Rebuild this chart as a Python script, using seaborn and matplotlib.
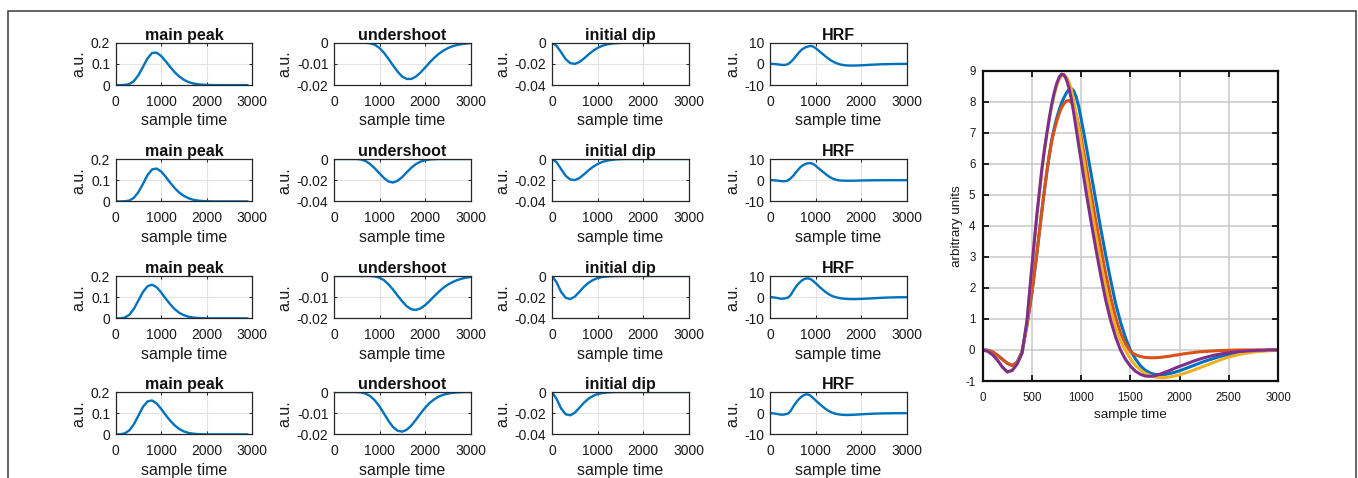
import matplotlib
matplotlib.use("Agg")
import numpy as np
import pandas as pd
import matplotlib.pyplot as plt
import seaborn as sns
from matplotlib.patches import Rectangle

# ---------------- data ----------------
t_peak = list(range(0, 2901, 100))   # main-peak sample times
t100 = list(range(0, 3001, 100))     # undershoot / initial dip sample times
# HRF sample times (denser around the peak)
t_hrf = list(range(0, 551, 50)) + list(range(600, 1101, 25)) + list(range(1150, 3001, 50))

main_peak_1 = [0, 0, 0.001, 0.005, 0.019, 0.047, 0.086, 0.126, 0.152, 0.153, 0.137, 0.112,
               0.085, 0.06, 0.04, 0.025, 0.014, 0.008, 0.004, 0.002, 0.001, 0.0004,
               0, 0, 0, 0, 0, 0, 0, 0]
main_peak_2 = [0, 0, 0.001, 0.004, 0.017, 0.044, 0.083, 0.124, 0.151, 0.155, 0.141, 0.116,
               0.088, 0.062, 0.041, 0.026, 0.015, 0.008, 0.004, 0.002, 0.001, 0.0004,
               0, 0, 0, 0, 0, 0, 0, 0]
main_peak_3 = [0, 0.0005, 0.004, 0.017, 0.045, 0.085, 0.125, 0.152, 0.159, 0.147, 0.122, 0.093,
               0.066, 0.043, 0.026, 0.015, 0.008, 0.004, 0.002, 0.001, 0.0003, 0,
               0, 0, 0, 0, 0, 0, 0, 0]
main_peak_4 = [0, 0.0005, 0.005, 0.019, 0.048, 0.089, 0.13, 0.156, 0.16, 0.146, 0.12, 0.091,
               0.064, 0.042, 0.025, 0.014, 0.007, 0.0035, 0.0015, 0.0006, 0.0002, 0,
               0, 0, 0, 0, 0, 0, 0, 0]

undershoot_1 = [0, 0, 0, 0, 0, 0, 0, 0, -0.0003, -0.001, -0.0025, -0.0048, -0.0077, -0.0108,
                -0.0137, -0.016, -0.0171, -0.0171, -0.016, -0.0141, -0.0118, -0.0094, -0.0072,
                -0.0053, -0.0038, -0.0026, -0.0017, -0.0011, -0.0007, -0.0004, -0.0002]
undershoot_2 = [0, 0, 0, 0, 0, 0, -0.0005, -0.002, -0.005, -0.009, -0.0135, -0.018, -0.0213,
                -0.0222, -0.0205, -0.017, -0.0125, -0.0082, -0.0048, -0.0025, -0.0012, -0.0005,
                -0.0002, 0, 0, 0, 0, 0, 0, 0, 0]
undershoot_3 = [0, 0, 0, 0, 0, 0, 0, 0, 0, -0.0002, -0.0008, -0.002, -0.004, -0.0065, -0.0093,
                -0.012, -0.0143, -0.0157, -0.016, -0.0153, -0.0138, -0.0118, -0.0096, -0.0075,
                -0.0056, -0.0041, -0.0029, -0.002, -0.0013, -0.0008, -0.0005]
undershoot_4 = [0, 0, 0, 0, 0, 0, -0.0002, -0.0008, -0.002, -0.004, -0.0068, -0.0102, -0.0137,
                -0.0166, -0.0183, -0.0187, -0.0178, -0.0158, -0.0131, -0.0102, -0.0075, -0.0052,
                -0.0035, -0.0022, -0.0013, -0.0008, -0.0004, -0.0002, -0.0001, 0, 0]

dip_1 = [0, -0.003, -0.009, -0.0155, -0.0192, -0.02, -0.0183, -0.015, -0.0112, -0.0077, -0.005,
         -0.003, -0.0017, -0.0009, -0.0005, -0.0002] + [0] * 15
dip_2 = [0, -0.003, -0.0095, -0.0158, -0.0193, -0.0199, -0.018, -0.0146, -0.0108, -0.0074,
         -0.0048, -0.0029, -0.0016, -0.0009, -0.0004, -0.0002] + [0] * 15
dip_3 = [0, -0.006, -0.015, -0.0205, -0.0218, -0.0195, -0.015, -0.0103, -0.0065, -0.0038,
         -0.002, -0.001, -0.0005, -0.0002] + [0] * 17
dip_4 = [0, -0.0065, -0.0155, -0.021, -0.022, -0.0196, -0.015, -0.0102, -0.0064, -0.0037,
         -0.002, -0.001, -0.0005, -0.0002] + [0] * 17

hrf_1 = ([0, -0.01, -0.06, -0.17, -0.3, -0.43, -0.5, -0.4, -0.05, 0.8, 1.85, 3.1]
         + [4.45, 5.1, 5.7, 6.25, 6.75, 7.13, 7.45, 7.72, 7.95, 8.13, 8.28, 8.39, 8.43, 8.35,
            8.15, 7.85, 7.45, 7.03, 6.6, 6.15, 5.7]
         + [4.8, 3.9, 3.05, 2.25, 1.5, 0.9, 0.4, 0.0, -0.28, -0.5, -0.65, -0.74, -0.79, -0.8,
            -0.79, -0.76, -0.72, -0.67, -0.61, -0.55, -0.49, -0.43, -0.37, -0.32, -0.27, -0.22,
            -0.18, -0.15, -0.12, -0.09, -0.07, -0.05, -0.04, -0.03, -0.02, -0.01, 0, 0])
hrf_2 = ([0, -0.01, -0.06, -0.17, -0.3, -0.43, -0.5, -0.4, -0.05, 0.8, 1.85, 3.1]
         + [4.45, 5.1, 5.7, 6.25, 6.7, 7.05, 7.35, 7.6, 7.8, 7.94, 8.02, 8.04, 7.98, 7.83, 7.6,
            7.25, 6.85, 6.4, 5.95, 5.5, 5.05]
         + [4.15, 3.3, 2.45, 1.7, 1.05, 0.55, 0.2, -0.05, -0.15, -0.21, -0.24, -0.25, -0.25,
            -0.24, -0.22, -0.2, -0.17, -0.15, -0.12, -0.1, -0.08, -0.06, -0.05, -0.04, -0.03,
            -0.02, -0.015, -0.01, -0.005, 0, 0, 0, 0, 0, 0, 0, 0, 0])
hrf_3 = ([0, -0.04, -0.15, -0.33, -0.55, -0.71, -0.66, -0.45, -0.1, 0.9, 2.65, 4.3]
         + [5.75, 6.35, 6.9, 7.4, 7.85, 8.2, 8.5, 8.7, 8.83, 8.87, 8.8, 8.65, 8.4, 8.03, 7.6,
            7.13, 6.65, 6.15, 5.65, 5.15, 4.65]
         + [3.7, 2.8, 2.0, 1.3, 0.72, 0.3, -0.02, -0.28, -0.49, -0.64, -0.75, -0.82, -0.87,
            -0.89, -0.89, -0.87, -0.84, -0.8, -0.75, -0.7, -0.64, -0.58, -0.52, -0.46, -0.4,
            -0.34, -0.28, -0.23, -0.19, -0.15, -0.12, -0.09, -0.07, -0.05, -0.04, -0.03,
            -0.02, -0.01])
hrf_4 = ([0, -0.04, -0.15, -0.33, -0.55, -0.71, -0.66, -0.45, -0.1, 0.95, 2.7, 4.35]
         + [5.8, 6.42, 6.95, 7.45, 7.9, 8.27, 8.57, 8.78, 8.89, 8.87, 8.72, 8.46, 8.1, 7.63,
            7.12, 6.6, 6.1, 5.6, 5.1, 4.62, 4.15]
         + [3.25, 2.4, 1.6, 0.95, 0.42, 0.0, -0.3, -0.52, -0.68, -0.78, -0.84, -0.85, -0.83,
            -0.78, -0.72, -0.66, -0.59, -0.53, -0.47, -0.41, -0.35, -0.3, -0.25, -0.21, -0.17,
            -0.14, -0.11, -0.09, -0.07, -0.05, -0.04, -0.03, -0.02, -0.01, -0.01, 0, 0, 0])

col_titles = ["main peak", "undershoot", "initial dip", "HRF"]
xlabel_text = "sample time"
ylabel_small = "a.u."
ylabel_big = "arbitrary units"
series_names = ["1", "2", "3", "4"]
series_colors = ["#0072BD", "#D95319", "#EDB120", "#7E2F8E"]

# ---------------- style ----------------
sns.set_theme(style="white")
plt.rcParams['font.family'] = ['Liberation Sans', 'DejaVu Sans']
plt.rcParams['axes.unicode_minus'] = False

W, H = 1358, 478
fig = plt.figure(figsize=(W / 100, H / 100), dpi=100)
fig.patch.set_facecolor("white")


def px_axes(l, t, r, b):
    return fig.add_axes([l / W, 1 - b / H, (r - l) / W, (b - t) / H])


def fmt(v):
    return f"{v:g}"


def style(ax, xt, yt, big=False):
    ax.set_xticks(xt)
    ax.set_xticklabels([fmt(v) for v in xt])
    ax.set_yticks(yt)
    ax.set_yticklabels([fmt(v) for v in yt])
    ax.set_xlim(xt[0], xt[-1])
    ax.set_ylim(yt[0], yt[-1])
    if big:
        ax.grid(True, color="#c9c9c9", linewidth=1.1)
        ec, lw, tl, ts, xpad, ypad = "#111111", 1.6, 4.0, 8.3, 7.8, 5.2
    else:
        ax.grid(True, color="#e3e3e3", linewidth=0.8)
        ec, lw, tl, ts, xpad, ypad = "#262626", 0.9, 2.5, 10.0, 7.0, 4.0
    ax.set_axisbelow(True)
    for s in ax.spines.values():
        s.set_visible(True)
        s.set_color(ec)
        s.set_linewidth(lw)
    ax.tick_params(axis="both", which="both", direction="in", length=tl, width=lw * 0.8,
                   color=ec, labelsize=ts, labelcolor="#1a1a1a",
                   top=True, right=True, bottom=True, left=True)
    ax.tick_params(axis="x", pad=xpad)
    ax.tick_params(axis="y", pad=ypad)
    ax.set_facecolor("white")


BLUE = "#0072BD"
col_lefts = [115.7, 334.0, 552.0, 770.0]
col_w = 136.5
row_tops = [42.7, 159.0, 276.0, 392.0]
row_h = 42.4

rows = [
    (main_peak_1, undershoot_1, dip_1, hrf_1, [-0.02, -0.01, 0]),
    (main_peak_2, undershoot_2, dip_2, hrf_2, [-0.04, -0.02, 0]),
    (main_peak_3, undershoot_3, dip_3, hrf_3, [-0.02, -0.01, 0]),
    (main_peak_4, undershoot_4, dip_4, hrf_4, [-0.02, -0.01, 0]),
]
xt_small = [0, 1000, 2000, 3000]

for r, (mp, us, dp, hr, us_ticks) in enumerate(rows):
    panels = [
        (t_peak, mp, [0, 0.1, 0.2]),
        (t100, us, us_ticks),
        (t100, dp, [-0.04, -0.02, 0]),
        (t_hrf, hr, [-10, 0, 10]),
    ]
    for c, (tx, vals, yt) in enumerate(panels):
        l = col_lefts[c]
        t = row_tops[r]
        ax = px_axes(l, t, l + col_w, t + row_h)
        df = pd.DataFrame({"t": tx, "v": vals})
        sns.lineplot(data=df, x="t", y="v", ax=ax, color=BLUE, linewidth=1.7)
        style(ax, xt_small, yt)
        ax.set_title(col_titles[c], fontsize=11.5, fontweight="bold", pad=1.8, color="#111111")
        ax.set_xlabel(xlabel_text, fontsize=11.5, labelpad=3.2, color="#1a1a1a")
        ax.set_ylabel(ylabel_small, fontsize=11.5, labelpad=3.0, color="#1a1a1a")

# big panel
axb = px_axes(982.7, 70.7, 1278.0, 381.0)
big_df = pd.DataFrame({
    "t": t_hrf * 4,
    "v": hrf_1 + hrf_2 + hrf_3 + hrf_4,
    "series": sum([[n] * len(t_hrf) for n in series_names], []),
})
sns.lineplot(data=big_df, x="t", y="v", hue="series", palette=series_colors,
             linewidth=2.2, legend=False, ax=axb)
style(axb, [0, 500, 1000, 1500, 2000, 2500, 3000], list(range(-1, 10)), big=True)
axb.set_xlabel(xlabel_text, fontsize=9.7, labelpad=3.6, color="#1a1a1a")
axb.set_ylabel(ylabel_big, fontsize=9.7, labelpad=1.5, color="#1a1a1a")

# outer frame (bottom edge falls outside the picture)
fig.patches.append(Rectangle((7.5 / W, -0.2), (1355.5 - 7.5) / W, 1.2 - 10.5 / H,
                             transform=fig.transFigure, fill=False,
                             edgecolor="#3a3a3a", linewidth=1.1))

fig.savefig("out.png", dpi=100)
